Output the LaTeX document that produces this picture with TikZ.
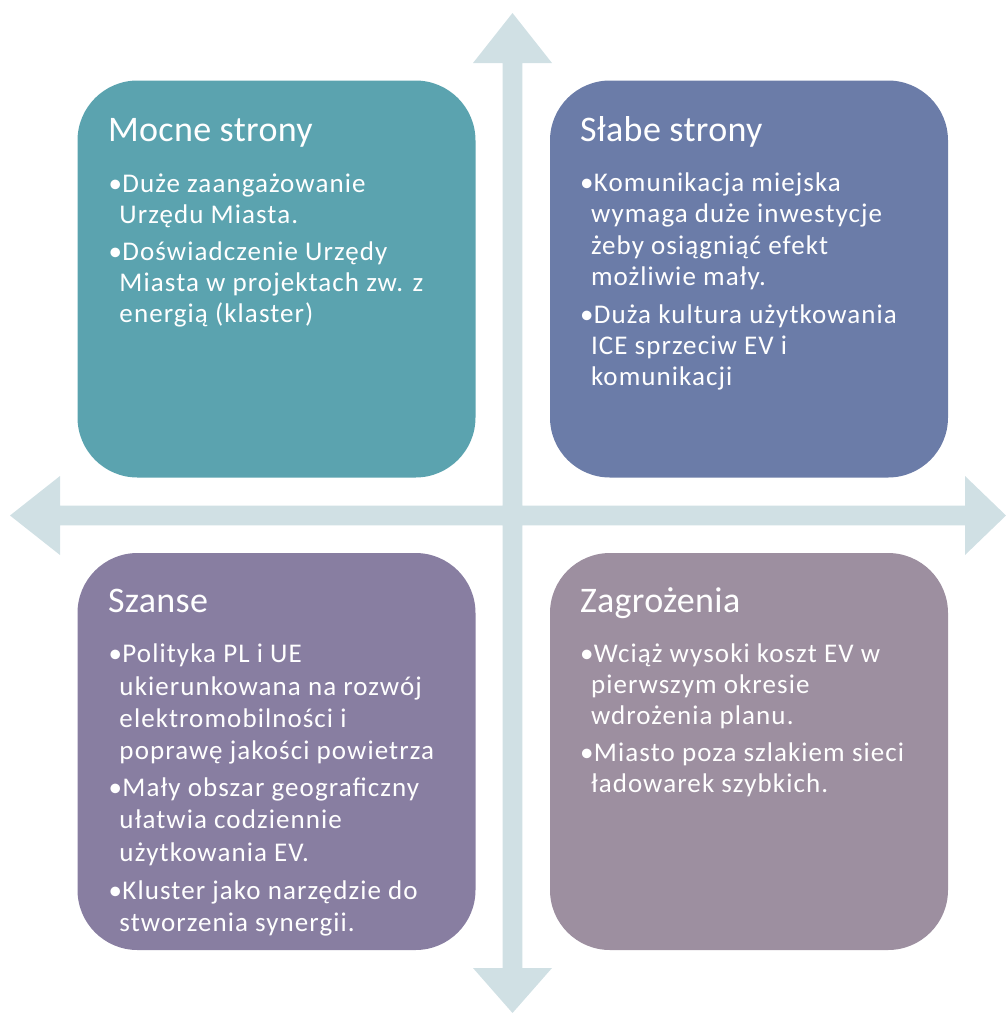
\documentclass[tikz,border=0pt]{standalone}
\usepackage{fontspec}
\setmainfont{Carlito}
\newfontfamily\swotfont[LetterSpace=4]{Carlito}
\newfontfamily\swottitlefont[LetterSpace=1]{Carlito}
\usetikzlibrary{positioning}
\definecolor{axiscol}{HTML}{D0E0E4}
\definecolor{mocnecol}{HTML}{5BA3AF}
\definecolor{slabecol}{HTML}{6B7CA8}
\definecolor{szansecol}{HTML}{887EA1}
\definecolor{zagrcol}{HTML}{9D8FA0}
\newcommand{\swotitem}{\makebox[7pt][l]{\textbullet}} % bullet of a point
\newcommand{\swotcont}{\hspace*{5.5pt}} % hanging indent of the next lines
\tikzset{x=0.5pt, y=-0.5pt, % one unit is one pixel of the sketch
quad/.style={rounded corners=30pt, minimum width=199pt, minimum height=198.5pt, inner sep=0pt}, % the four boxes
title/.style={text=white, anchor=base west, inner sep=0pt, font=\swottitlefont\fontsize{18}{21}\selectfont},
points/.style={text=white, anchor=north west, inner sep=0pt, align=left, font=\swotfont\fontsize{13.5}{15.5}\selectfont},
}

\begin{document}
\begin{tikzpicture}
  \useasboundingbox (0,0) rectangle (1006,1013);

  % the two axes
  \fill[axiscol] (10,515.5) -- (60,476) -- (60,505.7) -- (502.7,505.7) -- (502.7,63) -- (473,63)
    -- (512.5,13) -- (552,63) -- (522.3,63) -- (522.3,505.7) -- (965,505.7) -- (965,476)
    -- (1006,515.5) -- (965,555) -- (965,525.3) -- (522.3,525.3) -- (522.3,968) -- (552,968)
    -- (512.5,1013) -- (473,968) -- (502.7,968) -- (502.7,525.3) -- (60,525.3) -- (60,555) -- cycle;

  \node[quad, fill=mocnecol] (mocne) at (276.5,279) {};
  \node[quad, fill=slabecol] (slabe) at (749,279) {};
  \node[quad, fill=szansecol] (szanse) at (276.5,751.5) {};
  \node[quad, fill=zagrcol] (zagrozenia) at (749,751.5) {};

  \node[title] (mocneT) at ([shift={(30.5,61)}]mocne.north west) {Mocne strony};
  \node[title] (slabeT) at ([shift={(30,61)}]slabe.north west) {Słabe strony};
  \node[title] (szanseT) at ([shift={(30.5,60)}]szanse.north west) {Szanse};
  \node[title] (zagrozeniaT) at ([shift={(30,60)}]zagrozenia.north west) {Zagrożenia};

  \node[points] (mocneP) at ([shift={(31,90.5)}]mocne.north west)
    {\strut\swotitem Duże zaangażowanie\\
     \swotcont Urzędu Miasta.\\[3pt]
     \swotitem Doświadczenie Urzędy\\
     \swotcont Miasta w projektach zw. z\\
     \swotcont energią (klaster)};
  \node[points, font=\swotfont\fontsize{13.5}{15.7}\selectfont] (slabeP) at ([shift={(30,89)}]slabe.north west)
    {\strut\swotitem Komunikacja miejska\\
     \swotcont wymaga duże inwestycje\\
     \swotcont żeby osiągniąć efekt\\
     \swotcont możliwie mały.\\[3pt]
     \swotitem Duża kultura użytkowania\\
     \swotcont ICE sprzeciw EV i\\
     \swotcont komunikacji};
  \node[points, font=\swotfont\fontsize{13.5}{16.2}\selectfont] (szanseP) at ([shift={(31,87)}]szanse.north west)
    {\strut\swotitem Polityka PL i UE\\
     \swotcont ukierunkowana na rozwój\\
     \swotcont elektromobilności i\\
     \swotcont poprawę jakości powietrza\\[2pt]
     \swotitem Mały obszar geograficzny\\
     \swotcont ułatwia codziennie\\
     \swotcont użytkowania EV.\\[3pt]
     \swotitem Kluster jako narzędzie do\\
     \swotcont stworzenia synergii.};
  \node[points] (zagrozeniaP) at ([shift={(30,88)}]zagrozenia.north west)
    {\strut\swotitem Wciąż wysoki koszt EV w\\
     \swotcont pierwszym okresie\\
     \swotcont wdrożenia planu.\\[3pt]
     \swotitem Miasto poza szlakiem sieci\\
     \swotcont ładowarek szybkich.};
\end{tikzpicture}
\end{document}
